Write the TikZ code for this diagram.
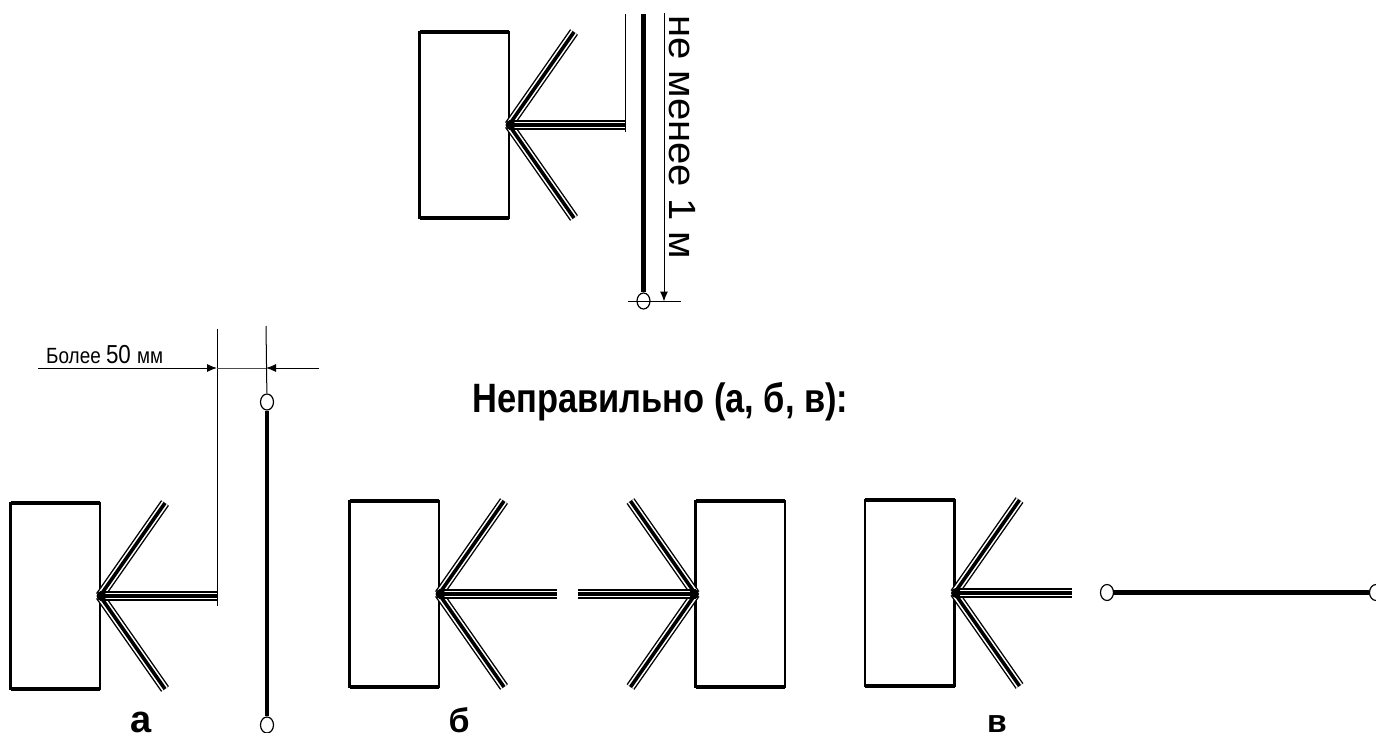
\documentclass[tikz,border=0pt]{standalone}
\usepackage{fontspec}
\setmainfont{Liberation Sans}
\usepackage{tikz}
\usetikzlibrary{arrows.meta, calc, shapes.geometric}
\tikzstyle{panel} = [rectangle, draw=black, line width=2.6pt, inner sep=0pt, outer sep=0pt, anchor=north west, minimum width=89.5pt, minimum height=186pt]
\tikzstyle{rim} = [line width=4pt]
\tikzstyle{ray} = [line width=9.6pt, draw=black, postaction={draw,white,line width=6.8pt}, postaction={draw,black,line width=3.6pt}]
\tikzstyle{wire} = [line width=4.2pt]
\tikzstyle{post} = [ellipse, draw=black, line width=1.2pt, fill=white, minimum width=13pt, minimum height=16pt, inner sep=0pt]
\tikzstyle{dimline} = [line width=1pt]
\tikzstyle{arrow} = [line width=1pt,-{Latex[length=10pt,width=8pt]}]
\tikzstyle{letter} = [anchor=base, inner sep=0pt]
% box with three rays: name, left x, top y, end of the middle ray
\newcommand{\rightant}[4]{
  \node (#1) [panel] at (#2,#3) {};
  \coordinate (#1hub) at (#1.east);
  \coordinate (#1up) at ($(#1hub)+(65,-93)$);
  \coordinate (#1down) at ($(#1hub)+(65,93)$);
  \coordinate (#1mid) at (#4,0 |- #1hub);
  \draw [ray] (#1hub) -- (#1up);
  \draw [ray] (#1hub) -- (#1down);
  \draw [ray] (#1hub) -- (#1mid);
  \fill ($(#1hub)+(1.5,0)$) circle (5);
  \draw [rim] (#1.north west) -- (#1.north east);
  \draw [rim] (#1.south west) -- (#1.south east);
}
\begin{document}
\begin{tikzpicture}[x=1pt,y=-1pt]
\useasboundingbox (0,0) rectangle (1376,733);
% Top drawing
\rightant{top}{419.5}{32}{625}
\coordinate (topa) at (625,14);
\coordinate (topb) at (625,132);
\draw [dimline] (topa) -- (topb);
\node (post1) [post] at (643.5,301) {};
\coordinate (wire1) at (643.5,14);
\draw [wire] (wire1) -- (post1);
\coordinate (dim1a) at (628,301.5);
\coordinate (dim1b) at (681,301.5);
\draw [dimline] (dim1a) -- (dim1b);
\coordinate (dim2a) at (664,13);
\coordinate (dim2b) at (664,301.5);
\draw [arrow] (dim2a) -- (dim2b);
\node (dist) [rotate=-90, anchor=base west, inner sep=0pt, font=\fontsize{40}{40}\selectfont] at (669,15) {\scalebox{1}[.95]{не менее 1 м}};

% Panel a
\rightant{boxa}{10.5}{503}{217}
\coordinate (dima) at (217,329);
\coordinate (dimb) at (217,606);
\draw [dimline] (dima) -- (dimb);
\coordinate (dimc) at (266,326);
\node (post2) [post] at (267,402) {};
\node (post3) [post] at (267,725) {};
\draw [dimline] (dimc) -- (post2);
\draw [wire] (post2) -- (post3);
\coordinate (leftend) at (38,368);
\coordinate (leftarr) at (217,368);
\coordinate (rightend) at (319,368);
\coordinate (rightarr) at (266,368);
\draw [arrow] (leftend) -- (leftarr);
\draw [arrow] (rightend) -- (rightarr);
\draw [dimline, black!70] (leftarr) -- (rightarr);
\node (gap) [anchor=base west, inner sep=0pt] at (46,363) {\scalebox{.86}[1]{\fontsize{22}{22}\selectfont Более \fontsize{26}{26}\selectfont 50 \fontsize{22}{22}\selectfont мм}};
\node (a) [letter, font=\fontsize{38}{38}\selectfont\bfseries] at (141,732) {а};

\node (title) [anchor=base west, inner sep=0pt, font=\fontsize{41}{41}\selectfont\bfseries] at (472,412) {\scalebox{.84}[1]{Неправильно (а, б, в):}};

% Panel b
\rightant{boxb}{349.5}{501}{557}
\node (boxc) [panel] at (695.5,501) {};
\coordinate (boxchub) at (boxc.west);
\coordinate (boxcup) at ($(boxchub)+(-65,-93)$);
\coordinate (boxcdown) at ($(boxchub)+(-65,93)$);
\coordinate (boxcmid) at (578,0 |- boxchub);
\draw [ray] (boxchub) -- (boxcup);
\draw [ray] (boxchub) -- (boxcdown);
\draw [ray] (boxchub) -- (boxcmid);
\fill ($(boxchub)+(-1.5,0)$) circle (5);
\draw [rim] (boxc.north west) -- (boxc.north east);
\draw [rim] (boxc.south west) -- (boxc.south east);
\node (b) [letter, font=\fontsize{34}{34}\selectfont\bfseries] at (459,732) {б};

% Panel c
\rightant{boxd}{865}{500}{1072}
\node (post4) [post] at (1107,592.5) {};
\node (post5) [post] at (1376,592.5) {};
\draw [wire] (post4) -- (post5);
\node (c) [letter, font=\fontsize{32}{32}\selectfont\bfseries] at (997,732) {в};
\end{tikzpicture}
\end{document}
